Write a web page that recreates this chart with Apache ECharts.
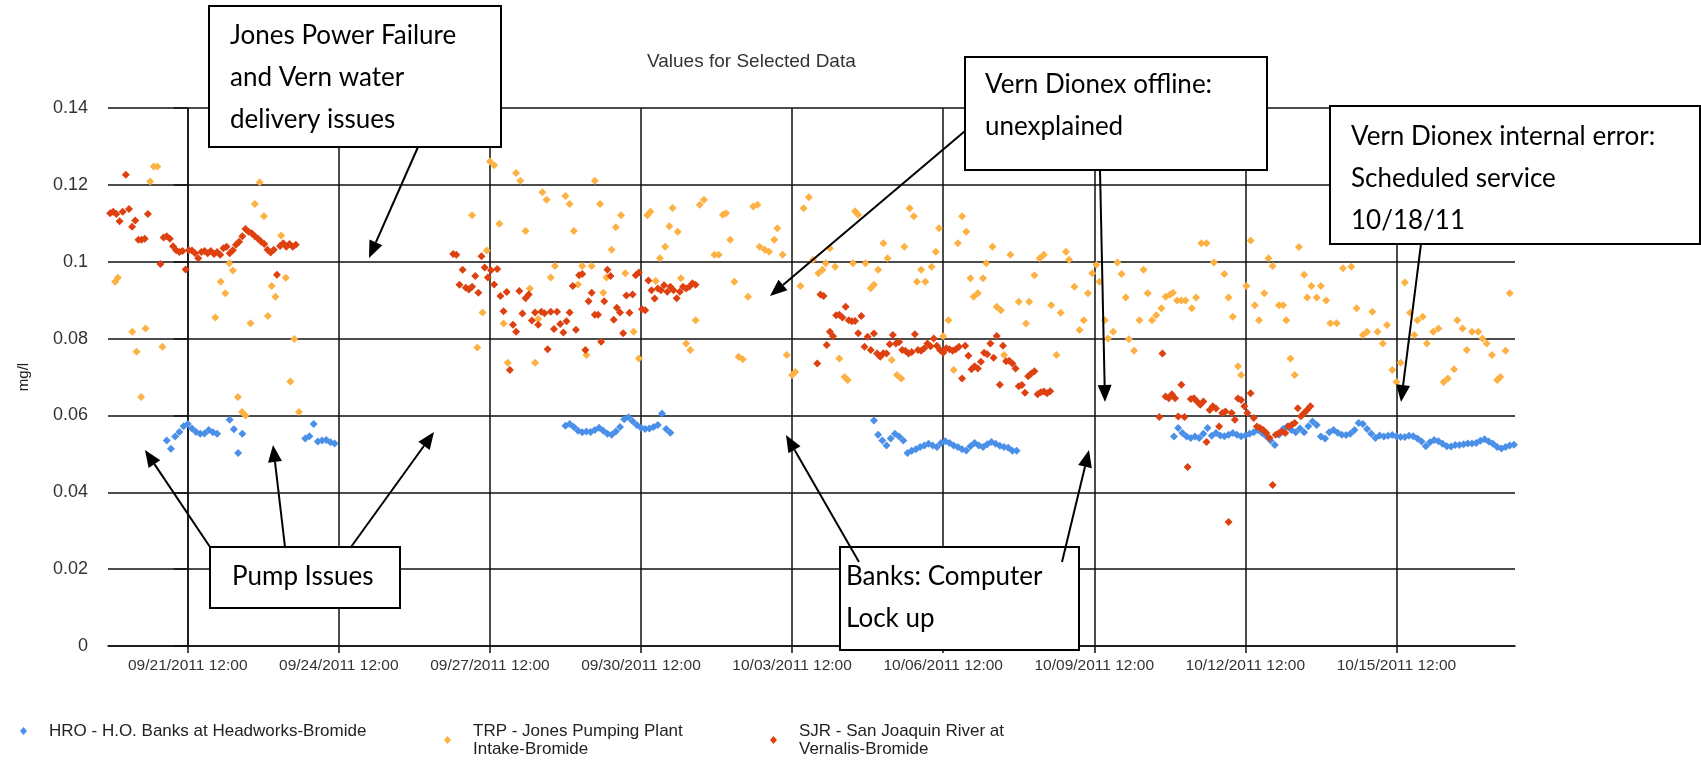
<!DOCTYPE html>
<html>
<head>
<meta charset="utf-8">
<title>Values for Selected Data</title>
<script src="https://cdn.jsdelivr.net/npm/echarts@6/dist/echarts.min.js"></script>
<style>
  html, body { margin: 0; padding: 0; background: #fff; }
  #chart { width: 1701px; height: 761px; }
</style>
</head>
<body>
<div id="chart"></div>
<script>
// x values are hours counted from 09/21/2011 12:00
const xTicks = [0, 72, 144, 216, 288, 360, 432, 504, 576];
const xTickLabels = [
  "09/21/2011 12:00", "09/24/2011 12:00", "09/27/2011 12:00",
  "09/30/2011 12:00", "10/03/2011 12:00", "10/06/2011 12:00",
  "10/09/2011 12:00", "10/12/2011 12:00", "10/15/2011 12:00",
];

const seriesNames = [
  "HRO - H.O. Banks at Headworks-Bromide",
  "TRP - Jones Pumping Plant Intake-Bromide",
  "SJR - San Joaquin River at Vernalis-Bromide",
];
const legendLabels = [
  "HRO - H.O. Banks at Headworks-Bromide",
  "TRP - Jones Pumping Plant\nIntake-Bromide",
  "SJR - San Joaquin River at\nVernalis-Bromide",
];

// regular runs: [first hour, step in hours, values]
const hroRun1 = [-10, 2, [.0535, .0513, .0545, .0557, .0572, .0578, .0566, .0557, .0552, .0553, .0562, .0556, .0552]];
const hroRun2 = [20, 2, [.0589, .0564, .0502, .0552]];
const hroRun3 = [56, 2, [.0540, .0546, .0578, .0532, .0535, .0536, .0530, .0527]];
const hroRun4 = [180, 2, [.0573, .0578, .0570, .0560, .0556, .0558, .0557, .0562, .0568, .0560, .0552, .0550, .0558,
  .0570, .0590, .0595, .0585, .0575, .0568, .0565, .0566, .0570, .0575, .0605, .0565, .0555]];
const hroRun5 = [327, 2, [.0587, .0550, .0535, .0522, .0540, .0552, .0545, .0535, .0502, .0508, .0512, .0518, .0522,
  .0526, .0522, .0518, .0528, .0533, .0528, .0522, .0518, .0512, .0509, .0520, .0528, .0522, .0518, .0525,
  .0531, .0526, .0521, .0518, .0516, .0508, .0508]];
const hroRun6 = [470, 2, [.0545, .0567, .0554, .0545, .0541, .0545, .0541, .0552, .0567, .0547, .0554, .0548, .0546,
  .0550, .0554, .0550, .0546, .0548, .0552, .0556, .0562, .0554, .0546, .0535, .0523, .0550, .0565, .0571,
  .0562, .0556, .0566, .0556, .0572, .0584, .0575, .0545, .0540, .0556, .0562, .0555, .0550, .0549, .0552,
  .0562, .0580, .0578, .0565, .0552, .0541, .0548, .0545, .0547, .0549, .0546, .0544, .0544, .0547, .0546,
  .0540, .0532, .0520, .0530, .0536, .0533, .0526, .0520, .0519, .0523, .0523, .0525, .0527, .0527, .0528,
  .0534, .0538, .0532, .0526, .0518, .0514, .0518, .0522, .0524]];

const sjrRun1 = [-37, 1.5, [.1126, .1130, .1124, .1105, .1130, .1226, .1137, .1091, .1107, .1057, .1057, .1060, .1124,
  null, null, null, .0994, .1063, .1066, .1060, .1040, .1030, .1025, .1028, .0980, .1030, .1029, .1022, .1009,
  .1025, .1028, .1022, .1028, .1020, .1025, .1018, .1035, .1039, .1022, .1030, .1044, .1052, .1066, .1085,
  .1078, .1074, .1066, .1060, .1052, .1046, .1031, .1024, .1031, .0966, .1041, .1048, .1039, .1046, .1039, .1044]];
const sjrRun2 = [126.5, 1.5, [.1020, .1018, .0940, .0979, .0932, .0928, .0935, .0963, .0919, .1014, .0985, .0959,
  .0978, .0941, .0981, .0911, .0871, .0921, .0718, .0836, .0818, .0924, .0865, .0905, .0915, .0847, .0868,
  .0836, .0870, .0866, .0772, .0870, .0825, .0870, .0838, .0816, .0845, .0868, .0937, .0823, .0965, .0968,
  .0770, .0897, .0919, .0862, .0862, .0792, .0897, .0979, .0963, .0849, .0880, .0868, .0814, .0912, .0867,
  .0915, .0965, .0972, .0876, .0874, .0951, .0926, .0904, .0930, .0926, .0939, .0922, .0935, .0926, .0905,
  .0922, .0935, .0930, .0935, .0944, .0940]];
const sjrRun3 = [300, 1.5, [.0735, .0915, .0911, .0783, .0818, .0806, .0861, .0862, .0855, .0883, .0848, .0845,
  .0846, .0814, .0859, .0779, .0805, .0770, .0813, .0761, .0753, .0762, .0761, .0785, .0809, .0787, .0791,
  .0770, .0768, .0761, .0765, .0811, .0770, .0768, .0775, .0787, .0780, .0800, .0781, .0770, .0763, .0775,
  .0772, .0768, .0772, .0779, .0696, .0781, .0755, .0720, .0728, .0722, .0740, .0763, .0759, .0787, .0750,
  .0807, .0680, .0781, .0741, .0742, .0735, .0722, .0676, .0679, .0659, .0702, .0709, .0715, .0655, .0660,
  .0662, .0658, .0663]];
const sjrRun4 = [463, 1.5, [.0596, .0761, .0649, .0645, .0655, .0645, .0597, .0680, .0596, .0466, .0643, .0645,
  .0636, .0628, .0636, .0531, .0614, .0624, .0618, .0571, .0606, .0610, .0323, .0606, .0589, .0644, .0640,
  .0624, .0606, .0658, .0593, .0571, .0567, .0562, .0554, .0541, .0419, .0550, .0554, .0558, .0554, .0571,
  .0575, .0580, .0619, .0598, .0606, .0615, .0624]];

// irregular readings: [hour, value]
const trpEarly = [[-34.6, .0948], [-33.3, .0958], [-26.4, .0818], [-24.4, .0766], [-22.2, .0648], [-20.1, .0826],
  [-17.9, .1209], [-16.2, .1248], [-14.5, .1248], [-12.1, .0779], [13.1, .0855], [15.7, .0948], [17.9, .0918],
  [19.8, .0996], [21.5, .0977], [23.9, .0648], [25.9, .0609], [27.5, .0600], [29.9, .0840], [32, .1150],
  [34.3, .1207], [36.3, .1118], [38.2, .0859], [40, .0937], [41.8, .0909], [44.5, .1068], [46.7, .0958],
  [48.9, .0688], [50.8, .0799], [53, .0609]];
const trpLate = [[135.5, .1121], [138, .0777], [140.5, .0868], [142.5, .1029], [144, .1261], [146, .1251],
  [148.5, .1099], [150.5, .0839], [152.5, .0737], [156.5, .1231], [158.5, .1211], [161, .1080], [163, .0930],
  [165.5, .0737], [167, .0851], [169, .1181], [171, .1161], [173, .0959], [175, .0989], [180, .1171],
  [182, .1150], [184, .1080], [186, .0941], [188, .0989], [190, .0757], [192.5, .0989], [194, .1211],
  [196.5, .1150], [198, .0919], [199.5, .0959], [202, .1031], [204, .1090], [206.5, .1121], [208.5, .0970],
  [212.5, .0818], [215, .0748], [219, .1121], [220.5, .1130], [223, .0950], [225, .1009], [227.5, .1039],
  [229.5, .1092], [231, .1140], [233.5, .1078], [235, .0957], [237.5, .0787], [239.5, .0770], [242, .0848],
  [244, .1148], [246, .1161], [251, .1018], [253, .1018], [255, .1122], [256.5, .1126], [258.5, .1057],
  [260.5, .0948], [262.5, .0753], [264.5, .0746], [267, .0909], [269.5, .1144], [271.5, .1148], [272.5, .1039],
  [275, .1031], [277, .1026], [279.5, .1057], [281, .1087], [283.5, .1018], [285.5, .0757], [288, .0705],
  [289.5, .0713], [292, .0937], [293.5, .1139], [296, .1168], [298, .1005], [300.5, .0970], [302.5, .0979],
  [304, .0996], [306, .1035], [308.5, .0987], [310.5, .0748], [313, .0700], [314.5, .0692], [317, .0996],
  [318, .1131], [319.5, .1122], [323, .0996], [325.5, .0931], [327, .0940], [329, .0979], [331.5, .1048],
  [333.5, .1009], [335.5, .0744], [338, .0705], [340, .0696], [341.5, .1039], [344, .1139], [346, .1118],
  [347.5, .0948], [349.5, .0979], [351.5, .0948], [354.5, .0987], [356.5, .1026], [358, .1087], [360, .0806],
  [362.5, .0848], [365, .0718], [367, .1048], [369, .1118], [371, .1078], [373, .0957], [374.5, .0909],
  [376.5, .0918], [379, .0957], [380.5, .0996], [383.5, .1039], [385.5, .0883], [387.5, .0874], [389, .0757],
  [392, .1018], [396, .0896], [399.5, .0839], [401, .0896], [403.5, .0965], [406, .1009], [408, .1018],
  [411.5, .0887], [414, .0757], [416, .0867], [418.5, .1026], [420, .1005], [422.5, .0935], [425, .0822],
  [427, .0848], [429, .0918], [431, .0970], [433, .0992], [434.5, .0948], [437, .0848], [438.5, .0800],
  [441, .0818], [443, .0998], [445, .0968], [447, .0907], [448.5, .0798], [451, .0768], [453.5, .0848],
  [455.5, .0979], [457.5, .0918], [459.5, .0848], [461.5, .0861], [464, .0879], [466, .0909], [468, .0914],
  [469.5, .0919], [471.5, .0899], [473.5, .0899], [475.5, .0899], [478.5, .0879], [480.5, .0907], [483, .1048],
  [485.5, .1048], [489, .0998], [494, .0968], [496, .0907], [498, .0857], [500.5, .0728], [502, .0705],
  [504.5, .0937], [506.5, .1055], [508.5, .0887], [510.5, .0848], [513, .0918], [515, .1009], [517, .0989],
  [520, .0887], [522, .0887], [523.5, .0848], [525.5, .0748], [527.5, .0705], [529.5, .1038], [532, .0966],
  [533.5, .0907], [535.5, .0937], [538, .0907], [540, .0937], [542.5, .0899], [544.5, .0840], [547.5, .0840],
  [550.5, .0983], [554.5, .0987], [557, .0879], [560, .0809], [562, .0818], [564.5, .0870], [567, .0818],
  [569.5, .0787], [571.5, .0835], [574, .0718], [576, .0687], [578, .0737], [580, .0946], [582.5, .0867],
  [584.5, .0809], [586, .0848], [588.5, .0857], [590.5, .0787], [593.5, .0818], [596, .0826], [598.5, .0687],
  [600.5, .0696], [603.5, .0720], [605, .0848], [607.5, .0826], [609.5, .0770], [612, .0818], [615, .0818],
  [617, .0800], [619, .0787], [621.5, .0757], [624, .0692], [625.5, .0700], [628, .0768], [630, .0918]];

function fromRuns(runs) {
  const out = [];
  runs.forEach(([start, step, values]) => {
    values.forEach((v, i) => {
      if (v !== null) out.push([start + i * step, v]);
    });
  });
  return out;
}

const hroData = fromRuns([hroRun1, hroRun2, hroRun3, hroRun4, hroRun5, hroRun6]);
const trpData = trpEarly.concat(trpLate);
const sjrData = fromRuns([sjrRun1, sjrRun2, sjrRun3, sjrRun4]);

// callout boxes and arrows drawn over the plot
const notes = [
  { box: [209, 6, 292, 141], at: [230, 15], text: "Jones Power Failure\nand Vern water\ndelivery issues" },
  { box: [965, 57, 302, 113], at: [985, 64], text: "Vern Dionex offline:\nunexplained" },
  { box: [1330, 106, 370, 138], at: [1351, 116], text: "Vern Dionex internal error:\nScheduled service\n10/18/11" },
  { box: [210, 547, 190, 61], at: [232, 556], text: "Pump Issues" },
  { box: [840, 547, 239, 103], at: [846, 556], text: "Banks: Computer\nLock up" },
];
const arrows = [
  [418, 147, 369, 258],
  [965, 131, 770, 296],
  [1100, 170, 1105, 402],
  [1421, 244, 1401, 402],
  [210, 547, 145, 450],
  [285, 547, 273, 445],
  [351, 547, 434, 432],
  [859, 562, 786, 435],
  [1062, 562, 1089, 450],
];

function arrowShapes([x1, y1, x2, y2]) {
  const a = Math.atan2(y2 - y1, x2 - x1);
  const len = 17, half = 7;
  const bx = x2 - len * Math.cos(a);
  const by = y2 - len * Math.sin(a);
  return [
    { type: "line", z: 120, shape: { x1, y1, x2: bx, y2: by }, style: { stroke: "#000", lineWidth: 2 } },
    {
      type: "polygon", z: 120,
      shape: { points: [[x2, y2], [bx + half * Math.sin(a), by - half * Math.cos(a)], [bx - half * Math.sin(a), by + half * Math.cos(a)]] },
      style: { fill: "#000" },
    },
  ];
}

const graphics = [];
notes.forEach((n) => {
  const [x, y, w, h] = n.box;
  graphics.push({ type: "rect", z: 110, shape: { x, y, width: w, height: h }, style: { fill: "#fff", stroke: "#000", lineWidth: 2 } });
  graphics.push({
    type: "text", z: 130, x: n.at[0], y: n.at[1],
    style: { text: n.text, font: "26px Lato", fill: "#000", lineHeight: 42, verticalAlign: "top" },
  });
});
arrows.forEach((a) => graphics.push(...arrowShapes(a)));

const colors = ["#4a8fe8", "#fdb143", "#de4010"];
const labelFont = "'Liberation Sans', Arial, sans-serif";

function legendAt(i, left) {
  return {
    data: [seriesNames[i]],
    left,
    top: 717,
    orient: "horizontal",
    icon: "diamond",
    itemWidth: 7,
    itemHeight: 8,
    selectedMode: false,
    formatter: () => legendLabels[i],
    textStyle: { fontFamily: labelFont, fontSize: 17, lineHeight: 18, color: "#222", padding: [0, 0, 0, 17] },
  };
}

const chart = echarts.init(document.getElementById("chart"), null, { renderer: "canvas" });

chart.setOption({
  animation: false,
  backgroundColor: "#fff",
  title: {
    text: "Values for Selected Data",
    left: 642,
    top: 47,
    textStyle: { fontFamily: labelFont, fontSize: 19, fontWeight: "normal", color: "#333" },
  },
  grid: { left: 108, top: 108, width: 1407, height: 538, containLabel: false },
  legend: [legendAt(0, 15), legendAt(1, 439), legendAt(2, 765)],
  xAxis: {
    type: "value",
    min: -38,
    max: 632.5,
    axisLine: { show: true, lineStyle: { color: "#111", width: 1.5 } },
    axisTick: { show: true, customValues: xTicks, length: 7, lineStyle: { color: "#111", width: 1.5 } },
    axisLabel: {
      customValues: xTicks,
      margin: 12,
      fontFamily: labelFont,
      fontSize: 15.5,
      color: "#333",
      formatter: (v) => xTickLabels[xTicks.indexOf(Math.round(v))] || "",
    },
    splitLine: { show: true, lineStyle: { color: "#111", width: 1.5 } },
  },
  yAxis: {
    type: "value",
    min: 0,
    max: 0.14,
    interval: 0.02,
    name: "mg/l",
    nameLocation: "middle",
    nameGap: 77,
    nameRotate: 90,
    nameTextStyle: { fontFamily: labelFont, fontSize: 15, color: "#222" },
    axisLine: { show: true, lineStyle: { color: "#111", width: 1.5 } },
    axisTick: { show: true, length: 14, lineStyle: { color: "#111", width: 1.5 } },
    axisLabel: { margin: 20, fontFamily: labelFont, fontSize: 18, color: "#333" },
    splitLine: { show: true, lineStyle: { color: "#111", width: 1.5 } },
  },
  series: [hroData, trpData, sjrData].map((data, i) => ({
    name: seriesNames[i],
    type: "scatter",
    symbol: "diamond",
    symbolSize: 8,
    itemStyle: { color: colors[i], opacity: 1 },
    data,
  })),
  graphic: graphics,
});

window.addEventListener("resize", () => chart.resize());
</script>
</body>
</html>
